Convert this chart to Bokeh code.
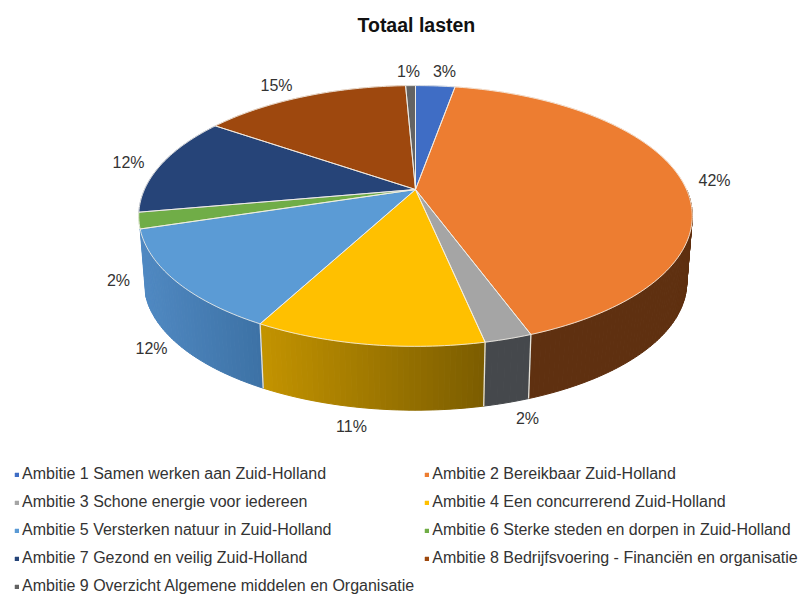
import numpy as np
from bokeh.plotting import figure
from bokeh.models import Legend, LegendItem
from bokeh.core.properties import value
from bokeh.embed import file_html
from bokeh.resources import INLINE

# ---- data ----
categories = [
    "Ambitie 1 Samen werken aan Zuid-Holland",
    "Ambitie 2 Bereikbaar Zuid-Holland",
    "Ambitie 3 Schone energie voor iedereen",
    "Ambitie 4 Een concurrerend Zuid-Holland",
    "Ambitie 5 Versterken natuur in Zuid-Holland",
    "Ambitie 6 Sterke steden en dorpen in Zuid-Holland",
    "Ambitie 7 Gezond en veilig Zuid-Holland",
    "Ambitie 8 Bedrijfsvoering - Financiën en organisatie",
    "Ambitie 9 Overzicht Algemene middelen en Organisatie",
]
shares = [2.8, 41.6, 2.3, 11.1, 12.4, 2.0, 12.4, 14.7, 0.7]

# ---- styles and layout ----
top_colors = ["#3F6DC5", "#ED7D31", "#A5A5A5", "#FFC000", "#5B9BD5",
              "#70AD47", "#264478", "#9E480E", "#636363"]
side_left = ["#2F5597", "#5F3010", "#45484C", "#C49400", "#5089C2",
             "#4F7D32", "#1A2F54", "#6E3209", "#454545"]
side_right = ["#2F5597", "#5F3010", "#45484C", "#7C5D00", "#3D72A6",
              "#4F7D32", "#1A2F54", "#6E3209", "#454545"]
label_x = [444, 714, 527, 351, 151, 118, 128, 276, 408]
label_y = [71, 180, 418, 426, 348, 280, 162, 85, 71]

CX, CY = 415.0, 189.0
RX, RY, K = 271.0, 125.0, 0.203
DEPTH, SHRINK = 67.0, 0.98
TITLE_H = 40


def rim(t, low=False):
    u, v = np.sin(t), -np.cos(t)
    w = 1 - K * v
    s, d = (SHRINK, DEPTH) if low else (1.0, 0.0)
    return CX + s * RX * u / w, CY + d + s * RY * v / w


def mix(a, b, f):
    ca = [int(a[i:i + 2], 16) for i in (1, 3, 5)]
    cb = [int(b[i:i + 2], 16) for i in (1, 3, 5)]
    return "#%02x%02x%02x" % tuple(round(x + (y - x) * f) for x, y in zip(ca, cb))


p = figure(width=801, height=595, frame_width=801, frame_height=595 - TITLE_H,
           x_range=(0, 801), y_range=(595, TITLE_H),
           output_backend="svg", toolbar_location=None, min_border=0,
           min_border_top=TITLE_H, title="Totaal lasten")
p.title.align = "left"
p.title.text_font = "Liberation Sans"
p.title.text_font_size = "19.5px"
p.title.text_font_style = "bold"
p.title.text_color = "#111111"
p.title.offset = 357
p.axis.visible = False
p.grid.visible = False
p.outline_line_color = None

edges = 2 * np.pi * np.concatenate([[0], np.cumsum(shares)]) / sum(shares)
left_limit = -np.cos(edges[5])  # the wall disappears behind the top where slice 6 starts


def steps(i):
    return np.linspace(edges[i], edges[i + 1], max(2, int((edges[i + 1] - edges[i]) * 60)))


# side wall, drawn as narrow strips so that it can carry a gradient
for i in range(len(shares)):
    ts = steps(i)
    xs, ys, cs = [], [], []
    xa, ya = rim(ts)
    xb, yb = rim(ts, True)
    span = max(xa.max() - xa.min(), 1)
    for j in range(len(ts) - 1):
        tm = (ts[j] + ts[j + 1]) / 2
        if -np.cos(tm) < (left_limit if np.sin(tm) < 0 else 0.0):
            continue
        xs.append([xa[j], xa[j + 1], xb[j + 1], xb[j]])
        ys.append([ya[j], ya[j + 1], yb[j + 1], yb[j]])
        cs.append(mix(side_left[i], side_right[i], (xa[j] - xa.min()) / span))
    if xs:
        p.patches(xs, ys, fill_color=cs, line_color=cs, line_width=1)

# light seams on the wall
for e in edges:
    if -np.cos(e) > 0.3:
        xa, ya = rim(e)
        xb, yb = rim(e, True)
        p.line([xa, xb], [ya, yb], line_color="#E6E2D8", line_width=1.3)

# top face
items = []
for i, name in enumerate(categories):
    x, y = rim(steps(i))
    r = p.patch([CX, *x], [CY, *y], fill_color=top_colors[i], line_color=top_colors[i], line_width=0.5)
    items.append(LegendItem(label=name, renderers=[r]))
for i in range(len(shares)):
    x, y = rim(steps(i))
    p.line([CX, *x, CX], [CY, *y, CY], line_color="#F2EFE8", line_width=1, line_alpha=0.85)

p.text(label_x, label_y, text=[f"{round(s)}%" for s in shares], text_align="center",
       text_baseline="middle", text_font=value("Liberation Sans"), text_font_size="16px",
       text_color="#333333")

legend = Legend(items=items, ncols=2, location=(14, 0), orientation="horizontal",
                glyph_width=5, glyph_height=5, label_standoff=3, label_height=15,
                spacing=10, margin=0, padding=0, border_line_color=None,
                background_fill_alpha=0, label_text_font="Liberation Sans",
                label_text_font_size="16px", label_text_color="#333333")
p.add_layout(legend, "center")

open("out.html", "w").write(file_html(p, INLINE))
